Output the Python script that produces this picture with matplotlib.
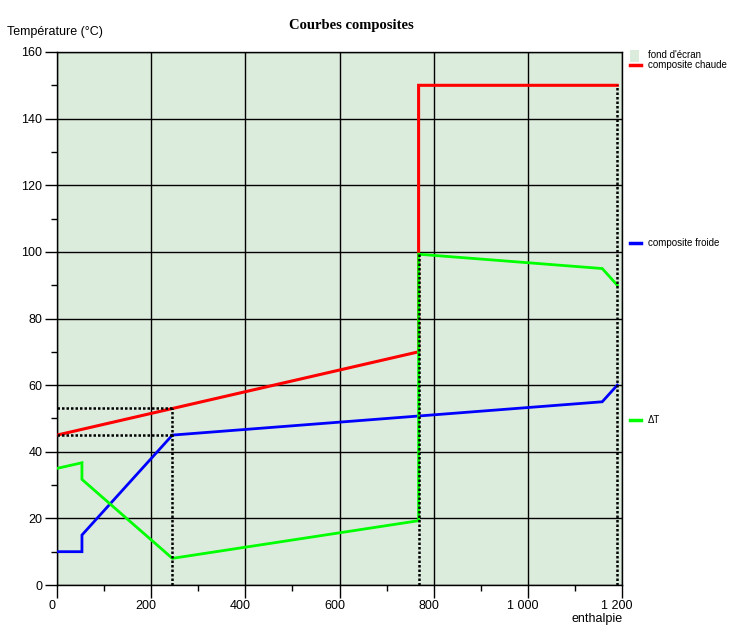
import matplotlib
matplotlib.use("Agg")
import matplotlib.pyplot as plt
import matplotlib.transforms as mtransforms
from matplotlib.ticker import MultipleLocator, FuncFormatter
from matplotlib.lines import Line2D
from matplotlib.patches import Rectangle

plt.rcParams['font.family'] = ['Liberation Sans', 'DejaVu Sans']

# Data
hot_x = [0, 768, 768, 1190]
hot_y = [45, 70, 150, 150]
cold_x = [0, 53, 53, 245, 1158, 1190]
cold_y = [10, 10, 15, 45, 55, 60]
dT_x = [0, 53, 53, 245, 768, 768, 1158, 1190]
dT_y = [35, 36.7, 31.7, 8.0, 19.3, 99.3, 95, 90]
pinch_x = 245
pinch_hot = 53
pinch_cold = 45
x_mid = 768
x_end = 1190
t_mid = 100
t_end = 150

title = "Courbes composites"
ylabel = "Température (°C)"
xlabel = "enthalpie"
legend_labels = ["fond d'écran", "composite chaude", "composite froide", "ΔT"]

bg = '#dcecdc'

fig = plt.figure(figsize=(7.35, 6.32), dpi=100)
fig.patch.set_facecolor('white')
ax = fig.add_axes([57/735, 1-585/632, (622-57)/735, (585-52)/632])
ax.set_facecolor(bg)
ax.set_xlim(0, 1200)
ax.set_ylim(0, 160)

ax.xaxis.set_major_locator(MultipleLocator(200))
ax.xaxis.set_minor_locator(MultipleLocator(100))
ax.yaxis.set_major_locator(MultipleLocator(20))
ax.yaxis.set_minor_locator(MultipleLocator(10))
ax.xaxis.set_major_formatter(FuncFormatter(lambda v, p: f"{int(v):,}".replace(",", " ")))
ax.grid(True, which='major', color='black', linewidth=1.0)
ax.set_axisbelow(True)
ax.tick_params(which='major', direction='out', length=9, width=1, labelsize=9, pad=1.5)
ax.tick_params(which='minor', direction='out', length=4.5, width=1)
for s in ax.spines.values():
    s.set_color('black')
    s.set_linewidth(1)

offset = mtransforms.ScaledTranslation(-5/100, 0, fig.dpi_scale_trans)
for lab in ax.get_xticklabels():
    lab.set_transform(lab.get_transform() + offset)

ax.plot(hot_x, hot_y, color='#ff0000', lw=2.2, solid_joinstyle='miter', zorder=3)
ax.plot(cold_x, cold_y, color='#0000ff', lw=2.0, solid_joinstyle='miter', zorder=3)
ax.plot(dT_x, dT_y, color='#00ff00', lw=2.0, solid_joinstyle='miter', zorder=4)

dot = dict(color='black', lw=1.8, linestyle=(0, (1, 0.8)), zorder=5)
ax.plot([0, pinch_x], [pinch_hot, pinch_hot], **dot)
ax.plot([0, pinch_x], [pinch_cold, pinch_cold], **dot)
ax.plot([pinch_x, pinch_x], [0, pinch_hot], **dot)
ax.plot([x_mid, x_mid], [0, t_mid], **dot)
ax.plot([x_end, x_end], [0, t_end], **dot)

fig.text(351/735, 1-26/632, title, ha='center', va='center', fontsize=10.5,
         fontweight='bold', family='Liberation Serif')
fig.text(7/735, 1-32/632, ylabel, ha='left', va='center', fontsize=9)
fig.text(597/735, 1-619/632, xlabel, ha='center', va='center', fontsize=9)

# Legend-like annotations
fig.patches.append(Rectangle((630/735, 1-62/632), 9/735, 12/632, transform=fig.transFigure,
                             facecolor=bg, edgecolor='none'))
fig.text(648/735, 1-55/632, legend_labels[0], ha='left', va='center', fontsize=7)
legend_items = [(65, '#ff0000', legend_labels[1]), (243, '#0000ff', legend_labels[2]),
                (420, '#00ff00', legend_labels[3])]
for ypix, col, lab in legend_items:
    fig.lines.append(Line2D([630/735, 641/735], [1-ypix/632, 1-ypix/632],
                            transform=fig.transFigure, color=col, lw=2.5))
    fig.text(648/735, 1-ypix/632, lab, ha='left', va='center', fontsize=7)

fig.savefig('out.png', dpi=100, facecolor='white')
